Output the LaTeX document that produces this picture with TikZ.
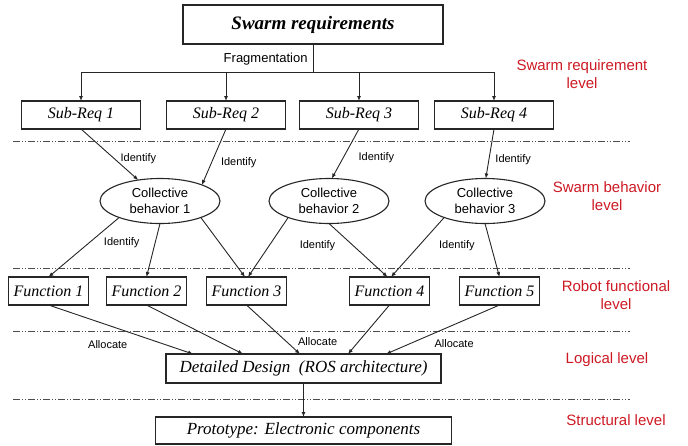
\documentclass[tikz,border=0pt]{standalone}
\usepackage{fontspec}
\setmainfont{Liberation Serif}
\setsansfont{Liberation Sans}
\usetikzlibrary{shapes.geometric, arrows.meta, positioning}
\definecolor{levelred}{RGB}{205,25,35}

\begin{document}
\begin{tikzpicture}[
    x=1pt, y=1pt,
    topbox/.style={rectangle, draw=black!85, minimum width=260pt, minimum height=39pt, inner sep=0pt, outer sep=0pt, line width=1.2pt, font=\fontsize{19}{22}\selectfont\bfseries\itshape},
    reqbox/.style={rectangle, draw=black!85, minimum width=119pt, minimum height=28pt, inner sep=0pt, outer sep=0pt, line width=1.1pt, font=\fontsize{16}{19}\selectfont\itshape},
    funcbox/.style={reqbox, minimum width=80pt},
    behavior/.style={ellipse, draw=black!85, minimum width=120pt, minimum height=45pt, inner sep=0pt, outer sep=0pt, line width=1.1pt, align=center, font=\fontsize{13}{16}\selectfont\sffamily},
    designbox/.style={reqbox, minimum width=275pt, minimum height=29pt, font=\fontsize{17}{20}\selectfont\itshape},
    protobox/.style={reqbox, minimum width=296pt, minimum height=27pt, font=\fontsize{17}{20}\selectfont\itshape},
    lbl/.style={inner sep=0pt, font=\fontsize{11}{13}\selectfont\sffamily},
    levellabel/.style={align=center, text=levelred, font=\fontsize{15}{18}\selectfont\sffamily},
    levelline/.style={draw=black!70, line width=1pt, dash pattern=on 7pt off 2pt on 1pt off 2pt on 1pt off 2pt},
    line/.style={draw=black!85, line width=0.9pt},
    arrow/.style={line, -{Latex[length=5pt,width=4pt]}}
]
\useasboundingbox (0,0) rectangle (688,-445);

% Nodes
\node (req) [topbox] at (313,-24.5) {Swarm requirements};
\node (sub1) [reqbox] at (81,-115) {Sub-Req 1};
\node (sub2) [reqbox, right=26pt of sub1] {Sub-Req 2};
\node (sub3) [reqbox, right=14pt of sub2] {Sub-Req 3};
\node (sub4) [reqbox, right=16pt of sub3] {Sub-Req 4};
\node (cb1) [behavior] at (160,-201) {Collective\\behavior 1};
\node (cb2) [behavior, right=49pt of cb1] {Collective\\behavior 2};
\node (cb3) [behavior, right=36pt of cb2] {Collective\\behavior 3};
\node (f1) [funcbox] at (48.5,-291) {Function 1};
\node (f2) [funcbox, right=18pt of f1] {Function 2};
\node (f3) [funcbox, right=20pt of f2] {Function 3};
\node (f4) [funcbox, right=63pt of f3] {Function 4};
\node (f5) [funcbox, right=30pt of f4] {Function 5};
\node (dd) [designbox] at (303.5,-368.5) {Detailed Design \ (ROS architecture)};
\node (proto) [protobox, below=34pt of dd] {Prototype: Electronic components};

% Level labels
\node (lvreq) [levellabel] at (582,-74) {Swarm requirement\\level};
\node (lvbeh) [levellabel] at (607,-196) {Swarm behavior\\level};
\node (lvfun) [levellabel] at (616,-295) {Robot functional\\level};
\node (lvlog) [levellabel] at (607,-360) {Logical level};
\node (lvstr) [levellabel] at (616,-420) {Structural level};

% Level separators
\draw [levelline] (13,-141) -- (630,-141);
\draw [levelline] (13,-268) -- (630,-268);
\draw [levelline] (13,-331) -- (630,-331);
\draw [levelline] (13,-399) -- (630,-399);

% Fragmentation
\draw [line] (req.south) -- node[pos=0.55, left=5pt, font=\fontsize{13}{15}\selectfont\sffamily, inner sep=0pt] {Fragmentation} ++(0,-28) coordinate (split);
\draw [arrow] (split) -| (sub1);
\draw [arrow] (split) -| (sub2);
\draw [arrow] (split) -| (sub3);
\draw [arrow] (split) -| (sub4);

% Identify
\draw [arrow] (sub1.south) -- node[lbl, pos=0.58, right=6pt] {Identify} (cb1.136);
\draw [arrow] (sub2.south) -- node[lbl, pos=0.6, right=9pt] {Identify} (cb1.21);
\draw [arrow] (sub3.south) -- node[lbl, pos=0.58, right=15pt] {Identify} (cb2.83);
\draw [arrow] (sub4.south) -- node[lbl, pos=0.61, right=6pt] {Identify} (cb3.88);
\draw [arrow] (cb1.202) -- node[lbl, pos=0.42, right=14pt] {Identify} (f1.north);
\draw [arrow] (cb1.south) -- (f2.north);
\draw [arrow] (cb1.338) -- ([xshift=-1.5pt]f3.north);
\draw [arrow] (cb2.202) -- node[lbl, pos=0.47, right=30pt] {Identify} ([xshift=1.5pt]f3.north);
\draw [arrow] (cb2.south) -- ([xshift=-2pt]f4.north);
\draw [arrow] (cb3.202) -- node[lbl, pos=0.48, right=20pt] {Identify} ([xshift=1.5pt]f4.north);
\draw [arrow] (cb3.south) -- (f5.north);

% Allocate
\draw [arrow] (f1.south) -- node[lbl, pos=0.41, below=15pt] {Allocate} ([xshift=27pt]dd.north west);
\draw [arrow] (f2.south) -- ([xshift=77pt]dd.north west);
\draw [arrow] (f3.south) -- node[lbl, pos=0.75, right=11pt] {Allocate} ([xshift=134pt]dd.north west);
\draw [arrow] (f4.south) -- ([xshift=182pt]dd.north west);
\draw [arrow] (f5.south) -- node[lbl, pos=0.4, below=14pt] {Allocate} ([xshift=220pt]dd.north west);

\draw [arrow] (dd) -- (proto);

\end{tikzpicture}
\end{document}
